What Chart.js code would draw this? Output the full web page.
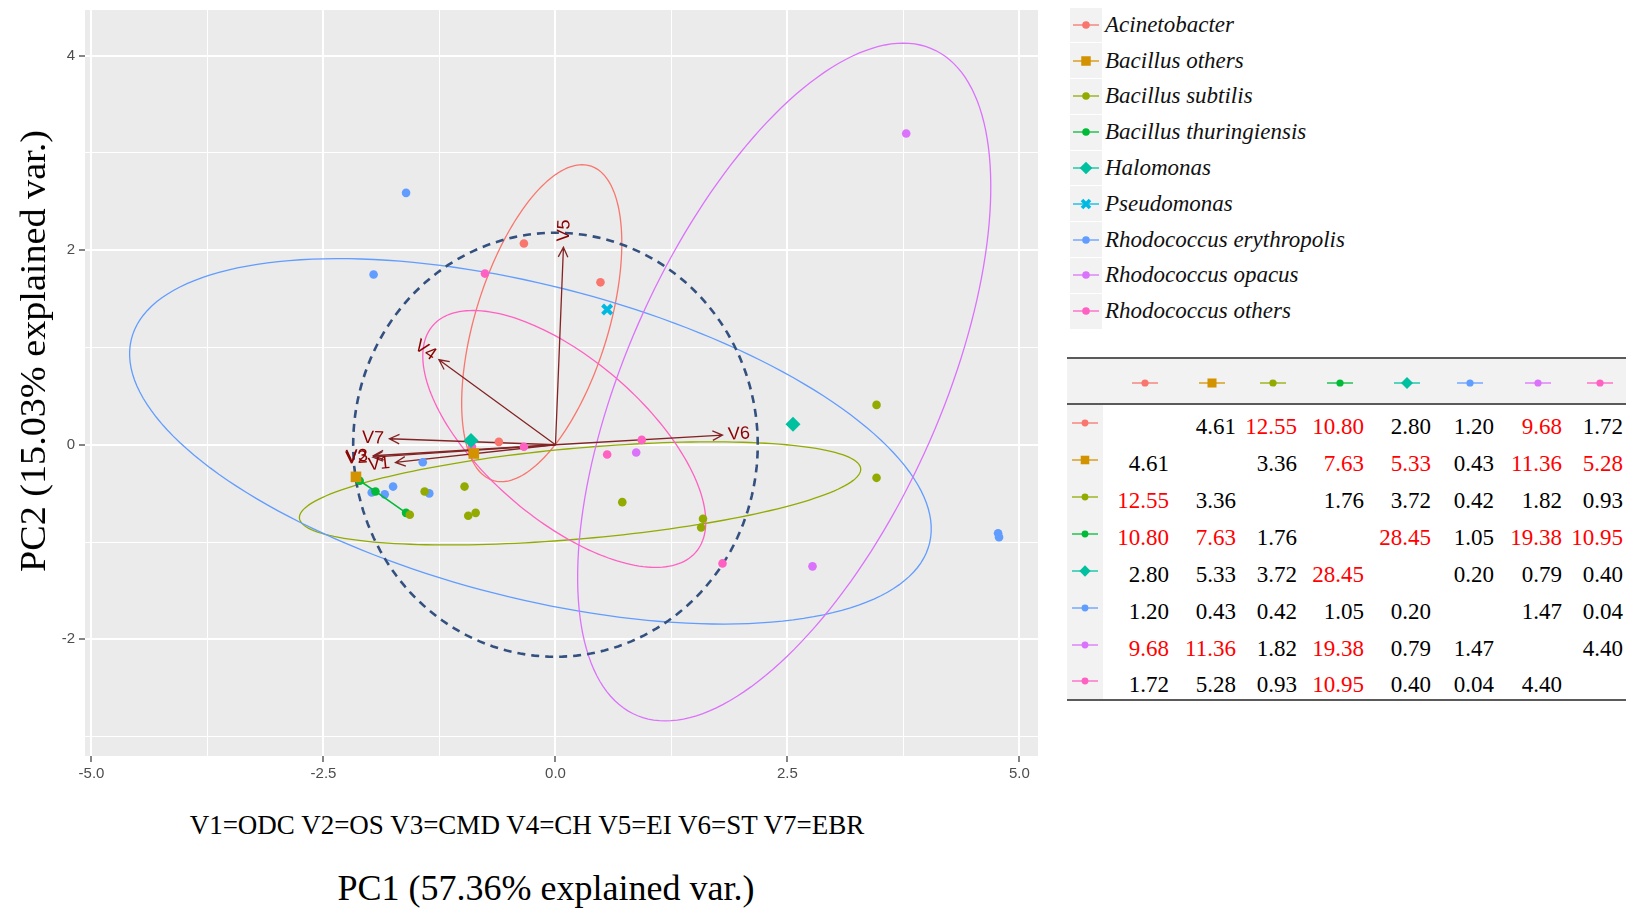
<!DOCTYPE html>
<html>
<head>
<meta charset="utf-8">
<script src="https://cdn.jsdelivr.net/npm/chart.js@4.4.1/dist/chart.umd.min.js"></script>
<style>
  body { margin: 0; background: #fff; }
  #page { position: relative; width: 1633px; height: 911px; overflow: hidden; background: #fff; font-family: 'Liberation Serif', 'Times New Roman', serif; color: #000; }
  #plotBox { position: absolute; left: 0; top: 0; width: 1045px; height: 790px; }
  .ytitle { position: absolute; left: 33px; top: 351px; font-size: 36px; white-space: nowrap; transform: translate(-50%, -50%) rotate(-90deg) scaleX(1.06); }
  .note { position: absolute; left: 527px; top: 825px; font-size: 27px; white-space: nowrap; transform: translate(-50%, -50%); }
  .xtitle { position: absolute; left: 546px; top: 888px; font-size: 36px; white-space: nowrap; transform: translate(-50%, -50%); }
  #legend { position: absolute; left: 1070px; top: 7px; }
  .lg-row { display: flex; align-items: center; height: 35.8px; }
  .lg-key { width: 32px; height: 34.8px; background: #f2f2f2; display: flex; align-items: center; justify-content: center; }
  .lg-text { font-style: italic; font-size: 23px; margin-left: 3px; color: #111; white-space: nowrap; }
  #dist { position: absolute; left: 1067px; top: 357px; width: 559px; border-collapse: collapse; table-layout: fixed; font-size: 23px;
          border-top: 2px solid #5a5a5a; border-bottom: 2px solid #5a5a5a; }
  #dist thead tr { height: 46px; background: #f2f2f2; }
  #dist thead th { border-bottom: 2px solid #5a5a5a; padding: 0 10px 0 0; text-align: right; font-weight: normal; }
  #dist thead th svg { display: inline-block; vertical-align: middle; }
  #dist tbody tr { height: 37px; }
  #dist td { padding: 7px 0 0 0; text-align: right; line-height: 1; white-space: nowrap; vertical-align: middle; }
  #dist td.key { background: #f2f2f2; text-align: center; padding: 0; }
  #dist td.key svg { display: block; margin: 0 auto; }
  #dist td.sig { color: #ff0000; }
</style>
</head>
<body>
<div id="page">
  <div id="plotBox"><canvas id="biplot"></canvas></div>
  <div class="ytitle">PC2 (15.03% explained var.)</div>
  <div class="note">V1=ODC V2=OS V3=CMD V4=CH V5=EI V6=ST V7=EBR</div>
  <div class="xtitle">PC1 (57.36% explained var.)</div>
  <div id="legend"></div>
  <table id="dist"></table>
</div>
<script>
// groups (ggplot hue palette)
const groupNames = ['Acinetobacter', 'Bacillus others', 'Bacillus subtilis', 'Bacillus thuringiensis', 'Halomonas',
                    'Pseudomonas', 'Rhodococcus erythropolis', 'Rhodococcus opacus', 'Rhodococcus others'];
const groupColors = ['#F8766D', '#D39200', '#93AA00', '#00BA38', '#00C19F', '#00B9E3', '#619CFF', '#DB72FB', '#FF61C3'];
const groupShapes = ['circle', 'rect', 'circle', 'circle', 'rectRot', 'crossRot', 'circle', 'circle', 'circle'];

// PC scores [PC1, PC2]
const ptsAcinetobacter = [[-0.34, 2.07], [0.485, 1.67], [-0.61, 0.03]];
const ptsBacillusOthers = [[-0.88, -0.09], [-2.15, -0.33]];
const ptsBacillusSubtilis = [[-1.41, -0.48], [-0.98, -0.43], [-0.94, -0.73], [-0.86, -0.70], [-1.57, -0.72],
                             [3.46, 0.41], [3.46, -0.34], [0.72, -0.59], [1.59, -0.76], [1.57, -0.85]];
const ptsBacillusThur = [[-2.11, -0.37], [-1.94, -0.48], [-1.61, -0.70]];
const ptsHalomonas = [[-0.91, 0.045], [2.56, 0.21]];
const ptsPseudomonas = [[0.557, 1.39]];
const ptsRhodoEryth = [[-1.61, 2.59], [-1.96, 1.75], [-1.43, -0.18], [-1.75, -0.43], [-1.98, -0.49],
                       [-1.84, -0.51], [-1.36, -0.50], [4.77, -0.91], [4.78, -0.95]];
const ptsRhodoOpacus = [[3.78, 3.20], [0.87, -0.08], [2.77, -1.25]];
const ptsRhodoOthers = [[-0.76, 1.76], [-0.34, -0.02], [0.93, 0.05], [0.557, -0.10], [1.80, -1.22], [-0.90, -0.02]];
const groupPoints = [ptsAcinetobacter, ptsBacillusOthers, ptsBacillusSubtilis, ptsBacillusThur, ptsHalomonas,
                     ptsPseudomonas, ptsRhodoEryth, ptsRhodoOpacus, ptsRhodoOthers];

// normal data ellipses: [group, centre x, centre y, semi-major, semi-minor, angle deg]
const ellipseRows = [
  [0, -0.148, 1.25, 1.70, 0.714, 71.7],
  [2, 0.265, -0.50, 3.035, 0.467, 4.8],
  [6, -0.27, 0.035, 4.427, 1.609, -13.6],
  [7, 2.465, 0.645, 3.779, 1.678, 64.4],
  [8, 0.095, 0.06, 1.835, 0.838, -38.7]
];
const circleRadius = 2.18;

// variable loadings (arrow tips)
const varNames = ['V1', 'V2', 'V3', 'V4', 'V5', 'V6', 'V7'];
const varX = [-1.724, -1.968, -1.961, -1.256, 0.086, 1.80, -1.789];
const varY = [-0.182, -0.127, -0.113, 0.874, 2.032, 0.10, 0.062];

// axes
const xTicks = [-5, -3.75, -2.5, -1.25, 0, 1.25, 2.5, 3.75, 5];
const xMajor = [-5, -2.5, 0, 2.5, 5];
const yTicks = [-3, -2, -1, 0, 1, 2, 3, 4];
const yMajor = [-2, 0, 2, 4];

// pairwise table
const tableGroups = [0, 1, 2, 3, 4, 6, 7, 8];
const distRows = [
  [null, 4.61, 12.55, 10.80, 2.80, 1.20, 9.68, 1.72],
  [4.61, null, 3.36, 7.63, 5.33, 0.43, 11.36, 5.28],
  [12.55, 3.36, null, 1.76, 3.72, 0.42, 1.82, 0.93],
  [10.80, 7.63, 1.76, null, 28.45, 1.05, 19.38, 10.95],
  [2.80, 5.33, 3.72, 28.45, null, 0.20, 0.79, 0.40],
  [1.20, 0.43, 0.42, 1.05, 0.20, null, 1.47, 0.04],
  [9.68, 11.36, 1.82, 19.38, 0.79, 1.47, null, 4.40],
  [1.72, 5.28, 0.93, 10.95, 0.40, 0.04, 4.40, null]
];
const redCells = ['0-2', '0-3', '0-6', '1-3', '1-4', '1-6', '1-7', '2-0', '3-0', '3-1', '3-4', '3-6', '3-7',
                  '4-3', '6-0', '6-1', '6-3', '7-3'];
const colWidths = [36, 66, 67, 61, 67, 67, 63, 68, 64];

// small key glyph: line + marker
function keyIcon(gi, w, lineLen, k) {
  const c = groupColors[gi], sh = groupShapes[gi];
  const h = 16, cx = w / 2, cy = 8;
  let m = '';
  if (sh === 'circle') m = `<circle cx="${cx}" cy="${cy}" r="${3.8 * k}" fill="${c}"/>`;
  else if (sh === 'rect') { const s = 9.5 * k; m = `<rect x="${cx - s / 2}" y="${cy - s / 2}" width="${s}" height="${s}" fill="${c}"/>`; }
  else if (sh === 'rectRot') { const d = 6.3 * k; m = `<polygon points="${cx},${cy - d} ${cx + d},${cy} ${cx},${cy + d} ${cx - d},${cy}" fill="${c}"/>`; }
  else { const d = 4 * k; m = `<path d="M${cx - d},${cy - d}L${cx + d},${cy + d}M${cx - d},${cy + d}L${cx + d},${cy - d}" stroke="${c}" stroke-width="${3.6 * k}"/>`; }
  return `<svg width="${w}" height="${h}"><line x1="${cx - lineLen / 2}" y1="${cy}" x2="${cx + lineLen / 2}" y2="${cy}" stroke="${c}" stroke-width="1.3"/>${m}</svg>`;
}

// legend
document.getElementById('legend').innerHTML = groupNames.map((n, i) =>
  `<div class="lg-row"><div class="lg-key">${keyIcon(i, 30, 26, 1)}</div><div class="lg-text">${n}</div></div>`).join('');

// table
let html = '<colgroup>' + colWidths.map(w => `<col style="width:${w}px">`).join('') + '</colgroup>';
html += '<thead><tr><th></th>' + tableGroups.map((g, j) =>
  `<th style="padding-right:${j === 7 ? 12 : 10}px">${keyIcon(g, 28, 26, 0.95)}</th>`).join('') + '</tr></thead><tbody>';
distRows.forEach((row, i) => {
  html += `<tr><td class="key">${keyIcon(tableGroups[i], 30, 26, 0.9)}</td>`;
  row.forEach((v, j) => {
    const cls = redCells.includes(i + '-' + j) ? ' class="sig"' : '';
    const pad = j === 7 ? ' style="padding-right:3px"' : '';
    html += `<td${cls}${pad}>${v === null ? '' : v.toFixed(2)}</td>`;
  });
  html += '</tr>';
});
document.getElementById('dist').innerHTML = html + '</tbody>';

// plot layers: panel, ellipses, circle, arrows, labels
const biplotLayer = {
  id: 'biplotLayer',
  beforeDraw(chart) {
    const { ctx, chartArea: a } = chart;
    ctx.save();
    ctx.fillStyle = '#EBEBEB';
    ctx.fillRect(a.left, a.top, a.right - a.left, a.bottom - a.top);
    ctx.restore();
  },
  beforeDatasetsDraw(chart) {
    const { ctx, chartArea: a, scales: { x, y } } = chart;
    ctx.save();
    ctx.beginPath();
    ctx.rect(a.left, a.top, a.right - a.left, a.bottom - a.top);
    ctx.clip();

    const trace = (cx, cy, ea, eb, deg) => {
      const th = deg * Math.PI / 180;
      ctx.beginPath();
      for (let k = 0; k <= 180; k++) {
        const t = 2 * Math.PI * k / 180;
        const ex = cx + ea * Math.cos(t) * Math.cos(th) - eb * Math.sin(t) * Math.sin(th);
        const ey = cy + ea * Math.cos(t) * Math.sin(th) + eb * Math.sin(t) * Math.cos(th);
        const px = x.getPixelForValue(ex), py = y.getPixelForValue(ey);
        if (k === 0) ctx.moveTo(px, py); else ctx.lineTo(px, py);
      }
      ctx.closePath();
    };

    ellipseRows.forEach(([gi, cx, cy, ea, eb, deg]) => {
      trace(cx, cy, ea, eb, deg);
      ctx.strokeStyle = groupColors[gi];
      ctx.lineWidth = 1.3;
      ctx.stroke();
    });

    // correlation circle
    trace(0, 0, circleRadius, circleRadius, 0);
    ctx.setLineDash([8, 6]);
    ctx.strokeStyle = '#34507f';
    ctx.lineWidth = 2.6;
    ctx.stroke();
    ctx.setLineDash([]);

    // loading arrows
    const ox = x.getPixelForValue(0), oy = y.getPixelForValue(0);
    ctx.strokeStyle = '#832424';
    ctx.lineWidth = 1.3;
    varNames.forEach((n, i) => {
      const tx = x.getPixelForValue(varX[i]), ty = y.getPixelForValue(varY[i]);
      const ang = Math.atan2(ty - oy, tx - ox);
      ctx.beginPath();
      ctx.moveTo(ox, oy);
      ctx.lineTo(tx, ty);
      const L = 11, phi = 0.45;
      ctx.moveTo(tx - L * Math.cos(ang - phi), ty - L * Math.sin(ang - phi));
      ctx.lineTo(tx, ty);
      ctx.lineTo(tx - L * Math.cos(ang + phi), ty - L * Math.sin(ang + phi));
      ctx.stroke();
    });
    ctx.restore();
  },
  afterDatasetsDraw(chart) {
    const { ctx, scales: { x, y } } = chart;
    ctx.save();
    ctx.font = '18px "Liberation Sans", Arial, sans-serif';
    ctx.fillStyle = '#8B0000';
    ctx.textBaseline = 'middle';
    // drawn last-to-first so V2 sits over V3 like in the figure
    for (let i = varNames.length - 1; i >= 0; i--) {
      const n = varNames[i];
      const tx = x.getPixelForValue(varX[i]), ty = y.getPixelForValue(varY[i]);
      const w = ctx.measureText(n).width;
      const rot = Math.atan(varY[i] / varX[i]);
      ctx.save();
      ctx.translate(tx, ty);
      ctx.rotate(-rot);
      if (varX[i] > 0) { ctx.textAlign = 'left'; ctx.fillText(n, 0.25 * w, 0); }
      else { ctx.textAlign = 'right'; ctx.fillText(n, -0.25 * w, 0); }
      ctx.restore();
    }
    ctx.restore();
  }
};

const pointRadius = { circle: 4.3, rect: 7.5, rectRot: 7.5, crossRot: 6.5 };
const datasets = groupNames.map((n, i) => ({
  label: n,
  data: groupPoints[i].map(p => ({ x: p[0], y: p[1] })),
  pointStyle: groupShapes[i],
  pointRadius: pointRadius[groupShapes[i]],
  backgroundColor: groupColors[i],
  borderColor: groupColors[i],
  pointBorderWidth: groupShapes[i] === 'crossRot' ? 4 : 0,
  showLine: i === 3,
  borderWidth: 1.6
}));

const tickFont = { family: '"Liberation Sans", Arial, sans-serif', size: 15 };
new Chart(document.getElementById('biplot'), {
  type: 'scatter',
  data: { datasets },
  options: {
    responsive: true,
    maintainAspectRatio: false,
    animation: false,
    devicePixelRatio: 1,
    events: [],
    layout: { autoPadding: false, padding: { left: 0, top: 10, right: 7, bottom: 0 } },
    plugins: { legend: { display: false }, tooltip: { enabled: false } },
    scales: {
      x: {
        type: 'linear', position: 'bottom', min: -5.07, max: 5.2,
        afterBuildTicks: s => { s.ticks = xTicks.map(v => ({ value: v })); },
        afterFit: s => { s.height = 34; s.paddingLeft = 0; s.paddingRight = 0; },
        ticks: {
          autoSkip: false, maxRotation: 0, padding: 3, color: '#4d4d4d', font: tickFont,
          callback: v => xMajor.includes(v) ? v.toFixed(1) : ''
        },
        grid: {
          color: '#ffffff',
          lineWidth: c => xMajor.includes(c.tick.value) ? 2 : 1,
          tickLength: 6,
          tickWidth: 1.2,
          tickColor: c => xMajor.includes(c.tick.value) ? '#333333' : 'rgba(0,0,0,0)'
        },
        border: { display: false }
      },
      y: {
        type: 'linear', position: 'left', min: -3.2, max: 4.47,
        afterBuildTicks: s => { s.ticks = yTicks.map(v => ({ value: v })); },
        afterFit: s => { s.width = 85; s.paddingTop = 0; s.paddingBottom = 0; },
        ticks: {
          autoSkip: false, padding: 4, color: '#4d4d4d', font: tickFont,
          callback: v => yMajor.includes(v) ? String(v) : ''
        },
        grid: {
          color: '#ffffff',
          lineWidth: c => yMajor.includes(c.tick.value) ? 2 : 1,
          tickLength: 6,
          tickWidth: 1.2,
          tickColor: c => yMajor.includes(c.tick.value) ? '#333333' : 'rgba(0,0,0,0)'
        },
        border: { display: false }
      }
    }
  },
  plugins: [biplotLayer]
});
</script>
</body>
</html>
